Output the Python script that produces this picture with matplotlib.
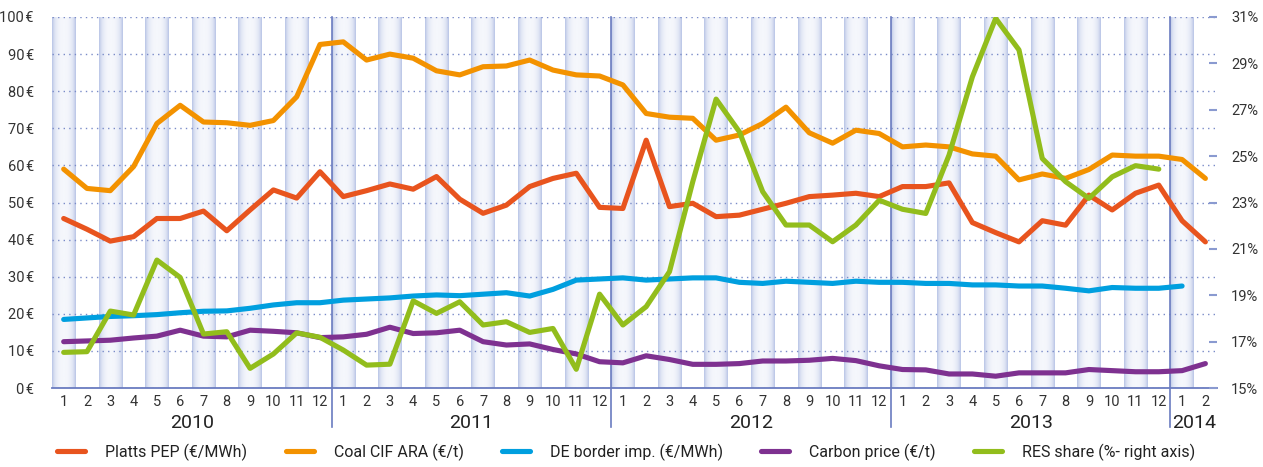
import numpy as np
import matplotlib
matplotlib.use("Agg")
import matplotlib.pyplot as plt
from matplotlib.colors import LinearSegmentedColormap
import matplotlib.transforms as mtransforms

plt.rcParams['font.family'] = ['Roboto', 'DejaVu Sans']

# months Jan 2010 .. Feb 2014
month_labels = [str(m) for m in range(1, 13)] * 4 + ['1', '2']
years = ['2010', '2011', '2012', '2013', '2014']

platts = [45.7, 42.8, 39.6, 40.8, 45.7, 45.7, 47.7, 42.4, 48.0, 53.4, 51.2, 58.3,
          51.6, 53.2, 55.0, 53.6, 57.0, 50.9, 47.1, 49.3, 54.3, 56.5, 57.9, 48.7,
          48.4, 66.8, 48.9, 49.8, 46.2, 46.6, 48.2, 49.8, 51.6, 52.0, 52.5, 51.6,
          54.3, 54.3, 55.3, 44.6, 41.9, 39.4, 45.1, 43.9, 52.0, 48.0, 52.5, 54.7,
          45.1, 39.4]
coal = [59.0, 53.8, 53.2, 59.7, 71.3, 76.2, 71.7, 71.5, 70.8, 72.1, 78.5, 92.6,
        93.3, 88.4, 90.0, 88.9, 85.5, 84.4, 86.6, 86.8, 88.4, 85.7, 84.4, 84.1,
        81.7, 74.0, 73.0, 72.7, 66.8, 68.2, 71.3, 75.7, 68.8, 66.0, 69.5, 68.6,
        65.0, 65.5, 65.0, 63.1, 62.5, 56.1, 57.7, 56.5, 58.9, 62.8, 62.5, 62.5,
        61.6, 56.5]
de_border = [18.5, 18.9, 19.3, 19.5, 19.8, 20.3, 20.7, 20.8, 21.5, 22.4, 23.0, 23.0,
             23.7, 24.0, 24.3, 24.8, 25.1, 24.9, 25.3, 25.7, 24.8, 26.6, 29.1, 29.4,
             29.7, 29.1, 29.4, 29.7, 29.7, 28.5, 28.2, 28.8, 28.5, 28.2, 28.8, 28.5,
             28.5, 28.2, 28.2, 27.8, 27.8, 27.5, 27.5, 26.9, 26.2, 27.1, 26.9, 26.9,
             27.5, np.nan]
carbon = [12.5, 12.7, 12.9, 13.5, 14.0, 15.6, 14.0, 13.8, 15.6, 15.3, 14.9, 13.6,
          13.8, 14.5, 16.4, 14.7, 14.9, 15.6, 12.5, 11.6, 11.9, 10.4, 9.2, 7.1,
          6.8, 8.7, 7.7, 6.4, 6.4, 6.6, 7.3, 7.3, 7.5, 8.0, 7.4, 6.0,
          5.0, 4.9, 3.8, 3.8, 3.2, 4.1, 4.1, 4.1, 5.0, 4.7, 4.4, 4.4,
          4.7, 6.6]
res_share = [16.54, 16.57, 18.32, 18.15, 20.52, 19.77, 17.33, 17.43, 15.85, 16.47, 17.38, 17.19,
             16.64, 15.99, 16.03, 18.76, 18.22, 18.72, 17.72, 17.86, 17.40, 17.57, 15.81, 19.05,
             17.72, 18.51, 20.02, 23.9, 27.46, 26.05, 23.47, 22.03, 22.03, 21.31, 22.03, 23.1,
             22.71, 22.53, 25.05, 28.42, 30.94, 29.58, 24.90, 23.90, 23.18, 24.11, 24.59, 24.44,
             np.nan, np.nan]

x = np.arange(len(month_labels))

fig = plt.figure(figsize=(12.63, 4.67), dpi=100)
ax = fig.add_axes([0.0412, 0.169, 0.9224, 0.7946])

# gradient stripes on odd months
stripe_cmap = LinearSegmentedColormap.from_list('stripe', ['#b9c5e6', '#dde3f3', '#f5f7fc'])
t = np.linspace(-1, 1, 80)
profile = (1 - np.abs(t) ** 2.6).reshape(1, -1)
for i in x[::2]:
    ax.imshow(profile, cmap=stripe_cmap, vmin=0, vmax=1, aspect='auto',
              extent=[i - 0.5, i + 0.5, 0, 100], zorder=0, interpolation='bilinear')

ax.set_xlim(-0.5, len(x) - 0.5)
ax.set_ylim(0, 100)
ax.set_yticks(range(0, 101, 10))
ax.set_yticklabels([f'{v}\u200a€' for v in range(0, 101, 10)])
ax.set_xticks(x)
ax.set_xticklabels(month_labels)
ax.tick_params(axis='both', length=0, labelsize=10.5, colors='#333333')
ax.tick_params(axis='y', pad=13)
ax.tick_params(axis='x', pad=5)
ax.set_axisbelow(True)
ax.yaxis.grid(True, color='#7a8bc8', linestyle=(0, (1, 3)), linewidth=1)
for s in ['top', 'left', 'right']:
    ax.spines[s].set_visible(False)
ax.spines['bottom'].set_color('#6a7cc0')
ax.spines['bottom'].set_linewidth(1.3)

# year separators and labels
trans = mtransforms.blended_transform_factory(ax.transData, ax.transAxes)
for k in range(1, 5):
    b = 12 * k - 0.5
    ax.plot([b, b], [1, -0.105], transform=trans, color='#6a7cc0', lw=1.2,
            clip_on=False, zorder=1)
for k, yr in enumerate(years):
    start = 12 * k - 0.5
    end = min(12 * k + 11.5, len(x) - 0.5)
    ax.text((start + end) / 2, -0.095, yr, transform=trans, ha='center', va='center',
            fontsize=14, color='#222222')

lw = 3.7
ax.plot(x, platts, color='#e8541e', lw=lw, solid_capstyle='round', label='Platts PEP (€/MWh)', zorder=3)
ax.plot(x, coal, color='#f39200', lw=lw, solid_capstyle='round', label='Coal CIF ARA (€/t)', zorder=3)
ax.plot(x, de_border, color='#009fdf', lw=lw, solid_capstyle='round', label='DE border imp. (€/MWh)', zorder=3)
ax.plot(x, carbon, color='#7e3190', lw=lw, solid_capstyle='round', label='Carbon price (€/t)', zorder=3)

ax2 = ax.twinx()
ax2.plot(x, res_share, color='#92bd1c', lw=lw, solid_capstyle='round', label='RES share (%- right axis)')
ax2.set_ylim(15, 31)
ax2.set_yticks(range(15, 32, 2))
ax2.set_yticklabels([f'{v}%' for v in range(15, 32, 2)])
ax2.tick_params(axis='y', direction='in', length=6, width=1.5, color='#8a9ad0',
                labelsize=10.5, labelcolor='#333333', pad=10)
for s in ax2.spines.values():
    s.set_visible(False)

h1, l1 = ax.get_legend_handles_labels()
h2, l2 = ax2.get_legend_handles_labels()
fig.legend(h1 + h2, l1 + l2, loc='center', bbox_to_anchor=(0.496, 0.032), ncol=5,
           frameon=False, fontsize=11.5, handlelength=1.75, handletextpad=1.25,
           columnspacing=2.4, labelcolor='#222222')

fig.savefig('out.png', dpi=100)
